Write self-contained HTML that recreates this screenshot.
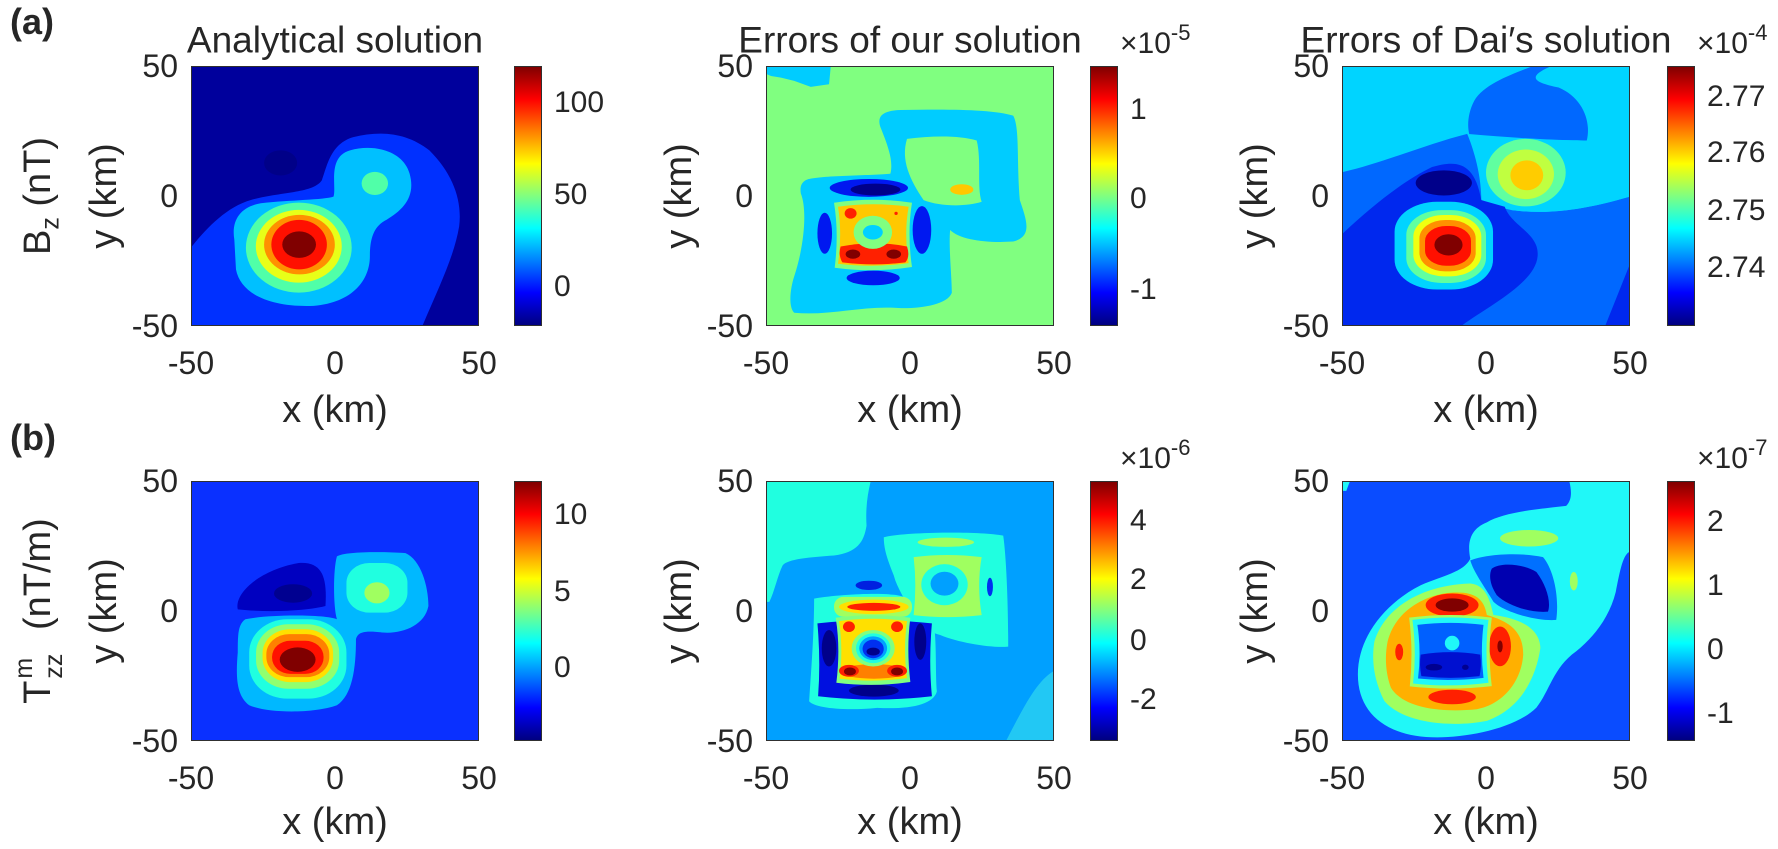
<!DOCTYPE html>
<html><head><meta charset="utf-8">
<style>
html,body{margin:0;padding:0;background:#fff;overflow:hidden;}
body{width:1778px;height:849px;position:relative;overflow:hidden;font-family:"Liberation Sans",Arial,sans-serif;color:#262626;}
.t{position:absolute;white-space:nowrap;transform:translate(-50%,-50%);line-height:1;}
.r{position:absolute;white-space:nowrap;transform:translate(-50%,-50%) rotate(-90deg);line-height:1;}
.yl{position:absolute;white-space:nowrap;transform:translate(-100%,-50%);line-height:1;font-size:32px;}
.cl{position:absolute;white-space:nowrap;transform:translate(0,-50%);line-height:1;font-size:30px;}
.xt{font-size:32px;}
.ax{font-size:38px;}
.ti{font-size:37px;}
svg.p{position:absolute;border:1.5px solid #303030;box-sizing:border-box;}
.cb{position:absolute;width:28px;border:1.5px solid #303030;box-sizing:border-box;
background:linear-gradient(to top,#000080 0%,#0000ff 12.5%,#00ffff 37.5%,#ffff00 62.5%,#ff0000 87.5%,#800000 100%);}
.ex{position:absolute;font-size:30px;white-space:nowrap;line-height:1;}
.ex sup{font-size:22px;vertical-align:13px;}
</style></head><body>

<div style="position:absolute;left:10px;top:4px;font-size:36px;font-weight:bold;line-height:1;">(a)</div>
<div style="position:absolute;left:10px;top:420px;font-size:36px;font-weight:bold;line-height:1;">(b)</div>

<div class="r ax" style="left:38px;top:196px;">B<sub style="font-size:25px;line-height:0;">z</sub> (nT)</div>
<div class="r ax" style="left:38px;top:611px;">T<span style="display:inline-block;position:relative;width:40px;height:22px;"><span style="position:absolute;left:2px;top:-16px;font-size:25px;">m</span><span style="position:absolute;left:2px;top:14px;font-size:25px;">zz</span></span> (nT/m)</div>

<!-- ===== Panel A1 ===== -->
<div class="t ti" style="left:335px;top:40px;">Analytical solution</div>
<svg class="p" style="left:191px;top:66px;width:288px;height:260px;" viewBox="152 78 865 780" preserveAspectRatio="none">
<rect x="0" y="0" width="2000" height="2000" fill="#00009c"/>
<ellipse cx="420" cy="368" rx="50" ry="38" fill="#000088"/>
<path d="M152,620 C200,560 260,500 330,480 C420,455 520,460 545,420 C560,380 570,310 640,290 C720,270 800,275 870,330 C940,400 970,480 960,560 C945,650 900,740 850,858 L152,858 Z" fill="#0030ff"/>
<path d="M280,600 C270,540 300,500 360,490 C450,480 550,480 580,470 C590,440 560,350 630,330 C700,310 790,330 810,400 C830,470 790,510 740,540 C700,560 690,600 690,650 C690,720 640,790 520,800 C400,805 300,770 285,690 Z" fill="#00c0ff"/>
<ellipse cx="705" cy="430" rx="40" ry="35" fill="#50ffa8"/>
<ellipse cx="475" cy="624" rx="160" ry="136" fill="#50ffa8"/>
<ellipse cx="475" cy="620" rx="130" ry="110" fill="#e8ff18"/>
<ellipse cx="477" cy="615" rx="107" ry="90" fill="#ff9000"/>
<ellipse cx="476" cy="615" rx="84" ry="75" fill="#ff1000"/>
<ellipse cx="476" cy="615" rx="51" ry="40" fill="#800000"/>
</svg>
<div class="cb" style="left:514px;top:66px;height:260px;"></div>
<div class="cl" style="left:554px;top:103px;">100</div>
<div class="cl" style="left:554px;top:195px;">50</div>
<div class="cl" style="left:554px;top:287px;">0</div>
<div class="yl" style="left:178px;top:66px;">50</div>
<div class="yl" style="left:178px;top:196px;">0</div>
<div class="yl" style="left:178px;top:326px;">-50</div>
<div class="t xt" style="left:191px;top:363px;">-50</div>
<div class="t xt" style="left:335px;top:363px;">0</div>
<div class="t xt" style="left:479px;top:363px;">50</div>
<div class="t ax" style="left:335px;top:410px;">x (km)</div>
<div class="r ax" style="left:104px;top:196px;">y (km)</div>

<!-- ===== Panel A2 ===== -->
<div class="t ti" style="left:910px;top:40px;">Errors of our solution</div>
<svg class="p" style="left:766px;top:66px;width:288px;height:260px;" viewBox="18 18 862 779" preserveAspectRatio="none">
<rect x="0" y="0" width="2000" height="2000" fill="#80ff80"/>
<path d="M18,18 L210,18 L205,70 L150,78 L100,60 L60,50 L30,45 L18,40 Z" fill="#00ccff"/>
<path d="M150,355 C200,345 350,345 390,340 C400,300 380,250 360,200 C350,170 360,150 420,148 C550,145 700,145 760,165 C780,200 770,300 780,420 C800,480 820,530 760,545 C680,550 600,540 570,510 C565,560 575,650 575,700 C560,740 460,750 400,745 C300,740 200,770 100,760 C80,740 90,680 100,650 C130,560 140,450 120,400 C115,370 130,358 150,355 Z" fill="#00ccff"/>
<path d="M440,235 C520,225 600,225 650,240 C665,300 650,380 665,425 C620,440 540,440 490,420 C450,360 420,300 440,235 Z" fill="#80ff80"/>
<ellipse cx="605" cy="388" rx="35" ry="16" fill="#ffc800"/>
<ellipse cx="325" cy="383" rx="118" ry="27" fill="#0018f0"/>
<ellipse cx="345" cy="388" rx="75" ry="18" fill="#00008a"/>
<ellipse cx="192" cy="520" rx="22" ry="62" fill="#0018f0"/>
<ellipse cx="485" cy="510" rx="28" ry="72" fill="#0018f0"/>
<ellipse cx="338" cy="655" rx="80" ry="22" fill="#0018f0"/>
<path d="M220,428 Q340,410 455,428 Q440,520 455,622 Q340,640 222,624 Q235,520 220,428 Z" fill="#80ff80"/>
<path d="M232,440 Q340,425 445,440 Q430,520 445,610 Q340,625 232,612 Q245,520 232,440 Z" fill="#ffc800"/>
<path d="M240,560 Q340,540 440,560 Q450,590 435,608 Q340,620 245,608 Q232,585 240,560 Z" fill="#ff2000"/>
<ellipse cx="277" cy="583" rx="22" ry="14" fill="#800000"/>
<ellipse cx="400" cy="583" rx="22" ry="14" fill="#800000"/>
<ellipse cx="270" cy="460" rx="18" ry="16" fill="#ff2000"/>
<circle cx="407" cy="460" r="5" fill="#ff2000"/>
<ellipse cx="337" cy="517" rx="58" ry="50" fill="#80ff80"/>
<ellipse cx="337" cy="517" rx="30" ry="22" fill="#00d0ff"/>
</svg>
<div class="cb" style="left:1090px;top:66px;height:260px;"></div>
<div class="ex" style="left:1120px;top:22px;">×10<sup>-5</sup></div>
<div class="cl" style="left:1130px;top:110px;">1</div>
<div class="cl" style="left:1130px;top:199px;">0</div>
<div class="cl" style="left:1130px;top:290px;">-1</div>
<div class="yl" style="left:753px;top:66px;">50</div>
<div class="yl" style="left:753px;top:196px;">0</div>
<div class="yl" style="left:753px;top:326px;">-50</div>
<div class="t xt" style="left:766px;top:363px;">-50</div>
<div class="t xt" style="left:910px;top:363px;">0</div>
<div class="t xt" style="left:1054px;top:363px;">50</div>
<div class="t ax" style="left:910px;top:410px;">x (km)</div>
<div class="r ax" style="left:679px;top:196px;">y (km)</div>

<!-- ===== Panel A3 ===== -->
<div class="t ti" style="left:1486px;top:40px;">Errors of Dai′s solution</div>
<svg class="p" style="left:1342px;top:66px;width:288px;height:260px;" viewBox="640 198 610 779" preserveAspectRatio="none">
<rect x="0" y="0" width="3000" height="3000" fill="#00d4ff"/>
<path d="M1040,198 C1000,220 940,250 920,300 C905,340 905,380 910,405 C960,412 1100,420 1160,420 C1170,360 1150,290 1100,260 C1050,245 1030,230 1080,198 Z" fill="#0068ff"/>
<path d="M640,515 C720,490 820,430 905,400 L1000,630 C1100,650 1200,610 1250,590 L1250,977 L640,977 Z" fill="#0068ff"/>
<path d="M905,400 C1000,412 1100,420 1160,420 C1180,390 1250,360 1250,330 L1250,590 C1200,610 1100,650 1000,630 C960,620 940,600 935,600 C935,540 925,470 905,400 Z" fill="#00d4ff"/>
<path d="M640,700 C700,620 770,540 830,500 C880,480 920,480 935,600 L985,620 C1000,680 1060,700 1055,770 C1050,850 950,920 895,977 L640,977 Z" fill="#0028ee"/>
<path d="M1250,800 L1200,977 L1250,977 Z" fill="#0028ee"/>
<ellipse cx="855" cy="548" rx="60" ry="38" fill="#00008a"/>
<rect x="750" y="605" width="210" height="265" rx="90" fill="#00d4ff"/>
<rect x="775" y="630" width="170" height="220" rx="75" fill="#60ffa0"/>
<rect x="790" y="645" width="145" height="185" rx="65" fill="#f0ff10"/>
<rect x="803" y="660" width="120" height="155" rx="55" fill="#ff9000"/>
<rect x="815" y="678" width="98" height="120" rx="45" fill="#ff1000"/>
<ellipse cx="865" cy="735" rx="30" ry="32" fill="#800000"/>
<ellipse cx="1030" cy="517" rx="85" ry="102" fill="#60ffa0"/>
<ellipse cx="1030" cy="522" rx="60" ry="75" fill="#c0ff40"/>
<ellipse cx="1032" cy="525" rx="35" ry="45" fill="#ffcc00"/>
</svg>
<div class="cb" style="left:1667px;top:66px;height:260px;"></div>
<div class="ex" style="left:1697px;top:22px;">×10<sup>-4</sup></div>
<div class="cl" style="left:1707px;top:97px;">2.77</div>
<div class="cl" style="left:1707px;top:153px;">2.76</div>
<div class="cl" style="left:1707px;top:211px;">2.75</div>
<div class="cl" style="left:1707px;top:268px;">2.74</div>
<div class="yl" style="left:1329px;top:66px;">50</div>
<div class="yl" style="left:1329px;top:196px;">0</div>
<div class="yl" style="left:1329px;top:326px;">-50</div>
<div class="t xt" style="left:1342px;top:363px;">-50</div>
<div class="t xt" style="left:1486px;top:363px;">0</div>
<div class="t xt" style="left:1630px;top:363px;">50</div>
<div class="t ax" style="left:1486px;top:410px;">x (km)</div>
<div class="r ax" style="left:1255px;top:196px;">y (km)</div>

<!-- ===== Panel B1 ===== -->
<svg class="p" style="left:191px;top:481px;width:288px;height:260px;" viewBox="500 185 750 780" preserveAspectRatio="none">
<rect x="0" y="0" width="3000" height="3000" fill="#0a30ff"/>
<path d="M620,570 C610,520 680,450 780,430 C840,425 855,470 850,560 C800,575 700,580 620,570 Z" fill="#0000c0"/>
<ellipse cx="765" cy="522" rx="50" ry="28" fill="#000090"/>
<path d="M640,600 C700,585 850,585 880,600 C870,560 870,450 880,410 C900,395 1000,395 1060,400 C1100,420 1120,500 1120,560 C1110,620 1050,645 1000,640 C960,635 935,635 930,660 C930,750 920,830 880,860 C820,885 700,885 650,860 C615,830 615,770 620,700 C620,650 620,615 640,600 Z" fill="#00b8ff"/>
<rect x="905" y="430" width="160" height="150" rx="60" fill="#20ffe0"/>
<ellipse cx="985" cy="520" rx="33" ry="32" fill="#a0ff60"/>
<rect x="650" y="600" width="255" height="240" rx="100" fill="#20ffe0"/>
<rect x="668" y="615" width="218" height="195" rx="85" fill="#90ff70"/>
<rect x="685" y="630" width="185" height="160" rx="72" fill="#ffe000"/>
<rect x="695" y="645" width="165" height="130" rx="60" fill="#ff8000"/>
<rect x="710" y="665" width="135" height="100" rx="48" fill="#ff1000"/>
<ellipse cx="777" cy="722" rx="47" ry="37" fill="#800000"/>
</svg>
<div class="cb" style="left:514px;top:481px;height:260px;"></div>
<div class="cl" style="left:554px;top:515px;">10</div>
<div class="cl" style="left:554px;top:592px;">5</div>
<div class="cl" style="left:554px;top:668px;">0</div>
<div class="yl" style="left:178px;top:481px;">50</div>
<div class="yl" style="left:178px;top:611px;">0</div>
<div class="yl" style="left:178px;top:741px;">-50</div>
<div class="t xt" style="left:191px;top:778px;">-50</div>
<div class="t xt" style="left:335px;top:778px;">0</div>
<div class="t xt" style="left:479px;top:778px;">50</div>
<div class="t ax" style="left:335px;top:822px;">x (km)</div>
<div class="r ax" style="left:104px;top:611px;">y (km)</div>

<!-- ===== Panel B2 ===== -->
<svg class="p" style="left:766px;top:481px;width:288px;height:260px;" viewBox="18 18 862 779" preserveAspectRatio="none">
<rect x="0" y="0" width="2000" height="2000" fill="#00a0ff"/>
<path d="M18,18 L330,18 C320,60 315,100 318,150 C310,200 290,230 220,240 C150,245 80,250 65,270 C50,300 40,350 25,380 L18,380 Z" fill="#20ffe0"/>
<path d="M880,590 C830,620 790,700 740,797 L880,797 Z" fill="#30d8f0" opacity="0.7"/>
<path d="M160,370 C250,355 400,350 430,365 C450,390 470,420 520,440 C530,500 525,600 530,650 C520,690 450,705 350,700 C250,710 160,700 145,680 C150,600 160,480 160,370 Z" fill="#20ffe0"/>
<path d="M370,185 C420,170 650,165 730,180 C740,250 745,400 745,515 C700,520 600,505 540,480 C500,470 470,440 455,420 C440,380 410,340 400,300 C380,250 370,220 370,185 Z" fill="#20ffe0"/>
<ellipse cx="557" cy="200" rx="85" ry="14" fill="#a0ff60"/>
<path d="M460,245 Q560,232 665,245 Q650,330 665,420 Q560,432 460,420 Q470,330 460,245 Z" fill="#a0ff60"/>
<ellipse cx="553" cy="328" rx="70" ry="62" fill="#20ffe0"/>
<ellipse cx="553" cy="325" rx="42" ry="36" fill="#00a0ff"/>
<ellipse cx="690" cy="335" rx="9" ry="28" fill="#0030f0"/>
<ellipse cx="325" cy="330" rx="40" ry="14" fill="#0020e0"/>
<path d="M170,445 Q340,425 515,445 Q505,560 515,665 Q340,685 172,665 Q180,560 170,445 Z" fill="#0010e0"/>
<ellipse cx="205" cy="520" rx="22" ry="55" fill="#00008a"/>
<ellipse cx="480" cy="500" rx="18" ry="55" fill="#00008a"/>
<ellipse cx="340" cy="648" rx="75" ry="18" fill="#00008a"/>
<rect x="220" y="365" width="235" height="60" rx="28" fill="#a0ff60"/>
<ellipse cx="340" cy="395" rx="105" ry="22" fill="#ffe000"/>
<ellipse cx="340" cy="395" rx="80" ry="12" fill="#ff2000"/>
<path d="M225,428 Q340,412 450,428 Q438,520 450,622 Q340,638 227,624 Q240,520 225,428 Z" fill="#80ff80"/>
<path d="M235,438 Q340,424 440,438 Q428,520 440,610 Q340,624 237,612 Q248,520 235,438 Z" fill="#ffe000"/>
<ellipse cx="340" cy="590" rx="100" ry="22" fill="#ff8000"/>
<ellipse cx="265" cy="588" rx="30" ry="18" fill="#ff2000"/>
<ellipse cx="410" cy="588" rx="30" ry="18" fill="#ff2000"/>
<ellipse cx="268" cy="590" rx="18" ry="12" fill="#800000"/>
<ellipse cx="410" cy="590" rx="18" ry="12" fill="#800000"/>
<ellipse cx="265" cy="455" rx="18" ry="16" fill="#ff2000"/>
<ellipse cx="410" cy="455" rx="18" ry="16" fill="#ff2000"/>
<ellipse cx="338" cy="520" rx="65" ry="55" fill="#80ff80"/>
<ellipse cx="338" cy="520" rx="52" ry="45" fill="#20ffe0"/>
<ellipse cx="338" cy="520" rx="42" ry="36" fill="#00a0ff"/>
<ellipse cx="338" cy="522" rx="32" ry="28" fill="#0030f0"/>
<ellipse cx="338" cy="530" rx="20" ry="12" fill="#00008a"/>
</svg>
<div class="cb" style="left:1090px;top:481px;height:260px;"></div>
<div class="ex" style="left:1120px;top:437px;">×10<sup>-6</sup></div>
<div class="cl" style="left:1130px;top:521px;">4</div>
<div class="cl" style="left:1130px;top:580px;">2</div>
<div class="cl" style="left:1130px;top:641px;">0</div>
<div class="cl" style="left:1130px;top:700px;">-2</div>
<div class="yl" style="left:753px;top:481px;">50</div>
<div class="yl" style="left:753px;top:611px;">0</div>
<div class="yl" style="left:753px;top:741px;">-50</div>
<div class="t xt" style="left:766px;top:778px;">-50</div>
<div class="t xt" style="left:910px;top:778px;">0</div>
<div class="t xt" style="left:1054px;top:778px;">50</div>
<div class="t ax" style="left:910px;top:822px;">x (km)</div>
<div class="r ax" style="left:679px;top:611px;">y (km)</div>

<!-- ===== Panel B3 ===== -->
<svg class="p" style="left:1342px;top:481px;width:288px;height:260px;" viewBox="15 18 865 780" preserveAspectRatio="none">
<rect x="0" y="0" width="2000" height="2000" fill="#0a4cff"/>
<path d="M15,18 L35,18 L25,45 L15,45 Z" fill="#20f8f8"/>
<path d="M700,18 L880,18 L880,230 C860,240 850,300 840,350 C820,430 770,490 720,530 C650,580 640,650 600,700 C540,760 400,790 300,790 C150,790 60,720 60,600 C60,480 150,380 250,330 C320,300 380,290 400,250 C390,200 400,160 450,140 C500,110 600,100 690,90 C710,70 705,40 700,18 Z" fill="#20f8f8"/>
<path d="M400,255 C450,235 550,230 620,245 C650,280 670,360 660,435 C600,440 500,410 470,380 C440,330 410,290 400,255 Z" fill="#0070ff"/>
<path d="M465,280 C490,260 560,265 600,290 C630,330 645,380 635,410 C580,415 510,390 480,360 C460,330 455,300 465,280 Z" fill="#0000b0"/>
<ellipse cx="578" cy="188" rx="88" ry="25" fill="#a0ff60"/>
<ellipse cx="713" cy="318" rx="12" ry="28" fill="#a0ff60"/>
<path d="M110,500 C140,400 250,330 400,325 C450,330 460,380 470,420 C550,430 610,460 612,520 C600,600 560,700 450,740 C350,760 200,750 140,680 C110,620 100,560 110,500 Z" fill="#a0ff60"/>
<path d="M150,500 C170,420 240,370 320,355 C400,345 440,360 450,420 C520,440 560,470 560,540 C555,620 500,690 420,705 C320,715 200,705 160,640 C145,600 140,550 150,500 Z" fill="#ffb000"/>
<ellipse cx="345" cy="390" rx="80" ry="35" fill="#ff2000"/>
<ellipse cx="345" cy="390" rx="50" ry="20" fill="#800000"/>
<ellipse cx="490" cy="515" rx="33" ry="60" fill="#ff2000"/>
<ellipse cx="490" cy="515" rx="8" ry="18" fill="#800000"/>
<ellipse cx="185" cy="532" rx="12" ry="25" fill="#ff2000"/>
<ellipse cx="345" cy="668" rx="72" ry="22" fill="#ff2000"/>
<path d="M215,428 Q340,412 465,428 Q452,530 465,635 Q340,650 217,636 Q228,530 215,428 Z" fill="#a0ff60"/>
<path d="M225,435 Q340,420 455,435 Q443,530 455,625 Q340,640 227,627 Q238,530 225,435 Z" fill="#20f8f8"/>
<path d="M240,450 Q340,438 440,450 Q430,530 440,610 Q340,622 242,612 Q252,530 240,450 Z" fill="#0060ff"/>
<path d="M250,540 Q340,525 430,540 Q435,575 428,605 Q340,615 252,605 Q245,570 250,540 Z" fill="#0010d0"/>
<ellipse cx="290" cy="578" rx="25" ry="10" fill="#000090"/>
<ellipse cx="385" cy="578" rx="10" ry="8" fill="#000090"/>
<ellipse cx="345" cy="505" rx="22" ry="22" fill="#20f8f8"/>
</svg>
<div class="cb" style="left:1667px;top:481px;height:260px;"></div>
<div class="ex" style="left:1697px;top:437px;">×10<sup>-7</sup></div>
<div class="cl" style="left:1707px;top:522px;">2</div>
<div class="cl" style="left:1707px;top:586px;">1</div>
<div class="cl" style="left:1707px;top:650px;">0</div>
<div class="cl" style="left:1707px;top:714px;">-1</div>
<div class="yl" style="left:1329px;top:481px;">50</div>
<div class="yl" style="left:1329px;top:611px;">0</div>
<div class="yl" style="left:1329px;top:741px;">-50</div>
<div class="t xt" style="left:1342px;top:778px;">-50</div>
<div class="t xt" style="left:1486px;top:778px;">0</div>
<div class="t xt" style="left:1630px;top:778px;">50</div>
<div class="t ax" style="left:1486px;top:822px;">x (km)</div>
<div class="r ax" style="left:1255px;top:611px;">y (km)</div>

</body></html>
